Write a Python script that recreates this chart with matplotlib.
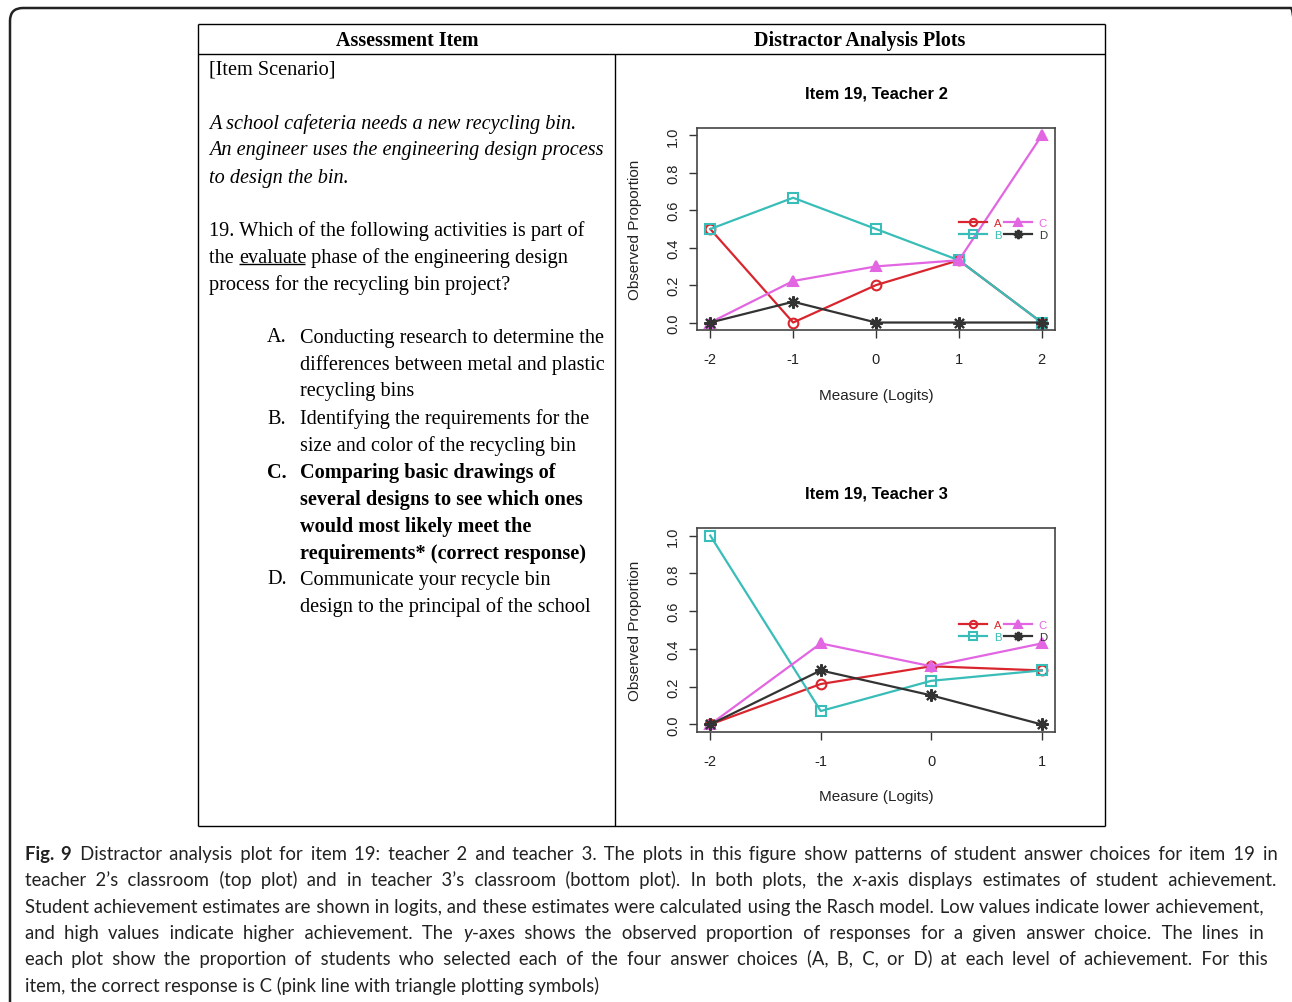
import matplotlib
matplotlib.use("Agg")
import matplotlib.pyplot as plt
from matplotlib.patches import FancyBboxPatch
from matplotlib.lines import Line2D

plt.rcParams['axes.unicode_minus'] = False

# ---------------- data ----------------
options = ["A", "B", "C", "D"]

t2_title = "Item 19, Teacher 2"
t2_x = [-2, -1, 0, 1, 2]
t2_A = [0.5, 0.0, 0.2, 0.333, 0.0]
t2_B = [0.5, 0.667, 0.5, 0.333, 0.0]
t2_C = [0.0, 0.222, 0.3, 0.333, 1.0]
t2_D = [0.0, 0.111, 0.0, 0.0, 0.0]

t3_title = "Item 19, Teacher 3"
t3_x = [-2, -1, 0, 1]
t3_A = [0.0, 0.214, 0.308, 0.286]
t3_B = [1.0, 0.071, 0.231, 0.286]
t3_C = [0.0, 0.429, 0.308, 0.429]
t3_D = [0.0, 0.286, 0.154, 0.0]

y_ticks = [0.0, 0.2, 0.4, 0.6, 0.8, 1.0]
y_tick_labels = ["0.0", "0.2", "0.4", "0.6", "0.8", "1.0"]
x_label = "Measure (Logits)"
y_label = "Observed Proportion"

header_left = "Assessment Item"
header_right = "Distractor Analysis Plots"

# ---------------- styles ----------------
colors = {"A": "#D9262E", "B": "#38BDB8", "C": "#E266E2", "D": "#333333"}
markers = {"A": "o", "B": "s", "C": "^", "D": (8, 2, 0)}
mfc = {"A": "none", "B": "none", "C": "#E266E2", "D": "#333333"}

W, H = 1292, 1003
fig = plt.figure(figsize=(W / 100, H / 100), dpi=100)
fig.patch.set_facecolor("white")
renderer = fig.canvas.get_renderer()

def fx(x):
    return x / W

def fy(y):
    return 1 - y / H

def fline(x0, y0, x1, y1, lw=1.0, color="black"):
    fig.add_artist(Line2D([fx(x0), fx(x1)], [fy(y0), fy(y1)], transform=fig.transFigure,
                          lw=lw, color=color, solid_capstyle="butt"))

# outer rounded frame
frame = FancyBboxPatch((10 / 100, (H - 1100) / 100), (1304 - 10) / 100, (1100 - 9) / 100,
                       boxstyle="round,pad=0,rounding_size=0.13", transform=fig.dpi_scale_trans,
                       fill=False, lw=1.8, edgecolor="#222222")
fig.add_artist(frame)

# table lines
fline(198, 25, 1105, 25)
fline(198, 827, 1105, 827)
fline(198, 25, 198, 827)
fline(1105, 25, 1105, 827)
fline(198, 55, 1105, 55)
fline(615, 55, 615, 827)

serif = "Liberation Serif"
fig.text(fx(407), fy(41), header_left, ha="center", va="center", family=serif,
         fontweight="bold", fontsize=14.4)
fig.text(fx(860), fy(41), header_right, ha="center", va="center", family=serif,
         fontweight="bold", fontsize=14.4)

_adv_cache = {}
def advance(s, kw):
    key = (s, tuple(sorted((k, str(v)) for k, v in kw.items())))
    if key in _adv_cache:
        return _adv_cache[key]
    t1 = fig.text(0, 0, s + "|", **kw)
    w1 = t1.get_window_extent(renderer).width
    t1.remove()
    t2 = fig.text(0, 0, "|", **kw)
    w2 = t2.get_window_extent(renderer).width
    t2.remove()
    _adv_cache[key] = w1 - w2
    return w1 - w2

def text_runs(x, y, runs, va="center", **common):
    cx = x
    arts = []
    for s, kw in runs:
        kk = dict(common)
        kk.update(kw)
        t = fig.text(fx(cx), fy(y), s, ha="left", va=va, **kk)
        adv = advance(s, kk)
        arts.append((t, cx, cx + adv))
        cx += adv
    return arts

HAIR = "\u200a"

def justified_line(x0, x1, y_base, runs, justify=True, **common):
    if justify:
        natural = sum(advance(s, {**common, **kw}) for s, kw in runs)
        n = sum(s.count(" ") for s, kw in runs)
        h = advance(HAIR * 10, common) / 10
        total = max(0, int(round((x1 - x0 - natural) / h))) if h > 0 else 0
        counts = [((i + 1) * total) // n - (i * total) // n for i in range(n)]
        new_runs = []
        gi = 0
        for s, kw in runs:
            out = []
            for ch in s:
                if ch == " ":
                    out.append(" " + HAIR * counts[gi])
                    gi += 1
                else:
                    out.append(ch)
            new_runs.append(("".join(out), kw))
        runs = new_runs
    text_runs(x0, y_base, runs, va="baseline", **common)

LFS = 14.6
DY = 2
base = dict(family=serif, fontsize=LFS)
fig.text(fx(209), fy(68 + DY), "[Item Scenario]", ha="left", va="center", **base)
for yy, s in [(122, "A school cafeteria needs a new recycling bin."),
              (149, "An engineer uses the engineering design process"),
              (176, "to design the bin.")]:
    fig.text(fx(209), fy(yy + DY), s, ha="left", va="center", style="italic", **base)
fig.text(fx(209), fy(229 + DY), "19. Which of the following activities is part of", ha="left", va="center", **base)
runs = text_runs(209, 256 + DY + 5, [("the ", {}), ("evaluate", {}), (" phase of the engineering design", {})],
                 va="baseline", **base)
_, ux0, ux1 = runs[1]
fline(ux0, 265, ux1 - 1, 265, lw=1.0)
fig.text(fx(209), fy(283 + DY), "process for the recycling bin project?", ha="left", va="center", **base)

answers = [
    ("A.", ["Conducting research to determine the", "differences between metal and plastic",
            "recycling bins"], 336, "normal"),
    ("B.", ["Identifying the requirements for the", "size and color of the recycling bin"], 417, "normal"),
    ("C.", ["Comparing basic drawings of", "several designs to see which ones",
            "would most likely meet the", "requirements* (correct response)"], 471, "bold"),
    ("D.", ["Communicate your recycle bin", "design to the principal of the school"], 578, "normal"),
]
for lab, lines, y0, wt in answers:
    fig.text(fx(267), fy(y0 + DY), lab, ha="left", va="center", fontweight=wt, **base)
    for i, s in enumerate(lines):
        fig.text(fx(300), fy(y0 + DY + 27 * i), s, ha="left", va="center", fontweight=wt, **base)

# ---------------- plots ----------------
sans = "Liberation Sans"

def make_plot(box, xs, series, title, xlim, xticks, legend_center, xlabel_y):
    x0, y0, x1, y1 = box
    ax = fig.add_axes([fx(x0), fy(y1), (x1 - x0) / W, (y1 - y0) / H])
    for k, ys in zip(options, series):
        ax.plot(xs, ys, color=colors[k], marker=markers[k], mfc=mfc[k], mec=colors[k],
                ms=7 if k != "D" else 9, mew=1.5, lw=1.6, label=k)
    ax.set_xlim(*xlim)
    ax.set_ylim(-0.04, 1.04)
    ax.set_xticks(xticks)
    ax.set_xticklabels([str(v) for v in xticks])
    ax.set_yticks(y_ticks)
    ax.set_yticklabels(y_tick_labels)
    for lbl in ax.get_yticklabels():
        lbl.set_rotation(90)
        lbl.set_va("center")
    ax.tick_params(direction="out", length=6, width=1.0, colors="#333333",
                   labelsize=10.5, labelcolor="#222222")
    ax.tick_params(axis="x", pad=10)
    ax.tick_params(axis="y", pad=6)
    for lbl in ax.get_xticklabels() + ax.get_yticklabels():
        lbl.set_family(sans)
    for sp in ax.spines.values():
        sp.set_color("#444444")
        sp.set_linewidth(1.2)
    ax.set_xlabel(x_label, family=sans, fontsize=11, color="#222222", va="center")
    ax.xaxis.set_label_coords(0.5, (y1 - xlabel_y) / (y1 - y0))
    ax.set_ylabel(y_label, family=sans, fontsize=11, color="#222222", va="center")
    ax.yaxis.set_label_coords((635 - x0) / (x1 - x0), 0.5)
    ax.set_title(title, family=sans, fontsize=12, fontweight="bold", y=1 + 35 / (y1 - y0),
                 va="center", pad=0)
    leg = ax.legend(loc="center", bbox_to_anchor=legend_center, ncol=2, frameon=False,
                    fontsize=8.2, handlelength=2.5, handletextpad=0.6, columnspacing=0.15,
                    labelspacing=0.22, markerscale=0.75, labelcolor="linecolor")
    for t in leg.get_texts():
        t.set_family(sans)
    return ax

ax1 = make_plot((697, 129, 1055, 331), t2_x, [t2_A, t2_B, t2_C, t2_D], t2_title,
                (-2.16, 2.16), [-2, -1, 0, 1, 2],
                ((1003 - 697) / 358, (331 - 230) / 202), 396)

ax2 = make_plot((697, 529, 1055, 733), t3_x, [t3_A, t3_B, t3_C, t3_D], t3_title,
                (-2.12, 1.12), [-2, -1, 0, 1],
                ((1003 - 697) / 358, (733 - 632) / 204), 797)

# ---------------- caption ----------------
cap_font = ["Lato", "Open Sans", "DejaVu Sans"]
cap_lines = [
    [("Fig. 9", {"fontweight": "bold"}), (" Distractor analysis plot for item 19: teacher 2 and teacher 3. The plots in this figure show patterns of student answer choices for item 19 in", {})],
    [("teacher 2’s classroom (top plot) and in teacher 3’s classroom (bottom plot). In both plots, the ", {}), ("x", {"style": "italic"}), ("-axis displays estimates of student achievement.", {})],
    [("Student achievement estimates are shown in logits, and these estimates were calculated using the Rasch model. Low values indicate lower achievement,", {})],
    [("and high values indicate higher achievement. The ", {}), ("y", {"style": "italic"}), ("-axes shows the observed proportion of responses for a given answer choice. The lines in", {})],
    [("each plot show the proportion of students who selected each of the four answer choices (A, B, C, or D) at each level of achievement. For this", {})],
    [("item, the correct response is C (pink line with triangle plotting symbols)", {})],
]
cap_ends = [1277, 1277, 1264, 1264, 1268, None]
test_fs = 14.0
scales = []
for runs_, xe in zip(cap_lines[:5], cap_ends[:5]):
    w = sum(advance(s, dict(family=cap_font, fontsize=test_fs, **kw)) for s, kw in runs_)
    scales.append((xe - 25) / w)
cap_fs = test_fs * min(scales)
cap_base = [860, 886, 913, 939, 965, 992]
cap_common = dict(family=cap_font, fontsize=cap_fs, color="#222222")
for yy, runs_, xe in zip(cap_base, cap_lines, cap_ends):
    justified_line(25, xe if xe else 0, yy, runs_, justify=xe is not None, **cap_common)

fig.savefig("out.png", dpi=100, facecolor="white")
